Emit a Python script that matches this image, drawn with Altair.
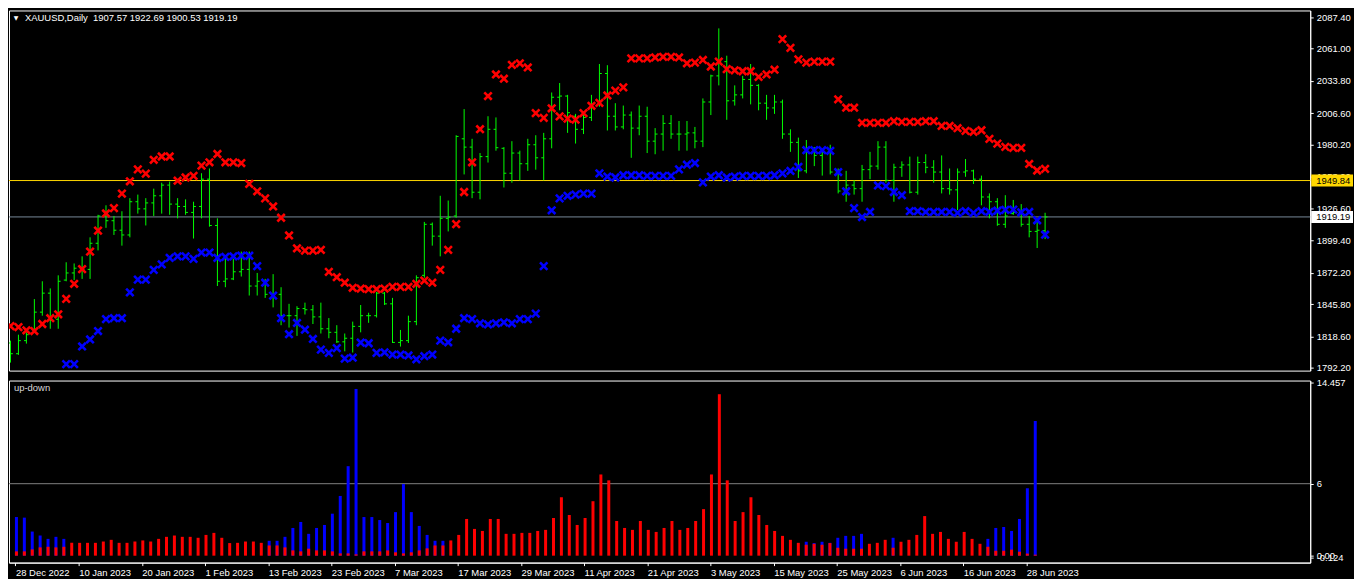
import json
import altair as alt
import pandas as pd

# ---------------- data ----------------
DATE_LABELS = ["28 Dec 2022", "10 Jan 2023", "20 Jan 2023", "1 Feb 2023", "13 Feb 2023",
               "23 Feb 2023", "7 Mar 2023", "17 Mar 2023", "29 Mar 2023", "11 Apr 2023",
               "21 Apr 2023", "3 May 2023", "15 May 2023", "25 May 2023", "6 Jun 2023",
               "16 Jun 2023", "28 Jun 2023"]

OPEN = [1813, 1804, 1815, 1824, 1839, 1855, 1833, 1866, 1872, 1876,
        1875, 1897, 1920, 1916, 1908, 1904, 1932, 1926, 1931, 1937,
        1946, 1930, 1928, 1923, 1928, 1951, 1912, 1865, 1867, 1873,
        1875, 1861, 1865, 1854, 1854, 1836, 1836, 1842, 1841, 1835,
        1825, 1822, 1814, 1817, 1827, 1836, 1836, 1855, 1846, 1813.5,
        1815, 1831, 1870, 1913, 1903, 1918, 1920, 1985, 1978, 1940,
        1970, 1993, 1977, 1956, 1973, 1964, 1980, 1969, 1985, 2020,
        2021, 2004, 1993, 2003, 2014, 2040, 2004, 1995, 2005, 1994,
        2004, 1983, 1989, 1998, 1989, 1989, 1990, 1983, 2016, 2038,
        2050, 2017, 2022, 2035, 2030, 2015, 2011, 2016, 1989, 1982,
        1958, 1977, 1971, 1974, 1957, 1941, 1946, 1943, 1959, 1962,
        1978, 1950, 1961, 1963, 1940, 1965, 1961, 1957, 1943, 1942,
        1957, 1958, 1951, 1936, 1932, 1913, 1922, 1923, 1913, 1907,
        1907.57]
HIGH = [1815, 1820, 1822, 1850, 1865, 1859, 1870, 1881, 1880, 1886,
        1902, 1921, 1929, 1920, 1924, 1935, 1938, 1935, 1943, 1948,
        1949, 1935, 1934, 1932, 1956, 1960, 1918, 1885, 1884, 1890,
        1890, 1872, 1867, 1871, 1860, 1846, 1844, 1847, 1845, 1847,
        1834, 1828, 1821, 1831, 1845, 1838.5, 1856, 1856, 1851, 1824,
        1836, 1870, 1915, 1914.5, 1937, 1933, 1988, 2010, 1985, 1973,
        2004, 2003, 1978, 1983, 1975, 1985, 1988, 1990, 2024, 2032,
        2022, 2006, 2006, 2022, 2048, 2047, 2015, 2013, 2008, 2013,
        2012, 1994, 2005, 2005, 2000, 2000, 1995, 2019, 2039, 2078,
        2055, 2030, 2038, 2048, 2031, 2022, 2022, 2018, 1993, 1986,
        1984, 1978, 1975, 1980, 1960, 1958, 1950, 1963, 1974, 1983,
        1983, 1964, 1966, 1970, 1970, 1972, 1967, 1971, 1960, 1960,
        1968, 1959, 1954, 1939, 1935, 1937.5, 1933.5, 1930, 1920, 1916,
        1922.69]
LOW = [1796.5, 1803, 1812.5, 1822, 1836, 1825, 1825, 1865, 1866, 1867,
       1867, 1891, 1910, 1904, 1895, 1902, 1922, 1912, 1920, 1922,
       1921, 1918, 1921, 1901, 1918, 1911, 1861, 1860, 1866, 1869,
       1853, 1853, 1851, 1843, 1828, 1826, 1819, 1837, 1829, 1821,
       1817, 1813, 1806, 1805, 1822, 1830, 1834.5, 1845, 1813, 1810,
       1813, 1828, 1868, 1895, 1886, 1907, 1918.5, 1955, 1935, 1934,
       1965, 1975, 1944, 1948, 1950, 1958, 1959, 1950, 1977, 2009,
       1990, 1981, 1989, 2000, 2012, 1992, 1992, 1993, 1969, 1988,
       1973, 1972, 1975, 1985, 1975, 1975, 1977, 1978, 2005, 2030,
       2001, 2013, 2019, 2014, 2009, 2001, 2006, 1985, 1974, 1952,
       1956, 1962, 1954, 1955, 1939, 1932, 1938, 1932, 1951, 1959,
       1948, 1932, 1953, 1939, 1938, 1956, 1948, 1939, 1938, 1925,
       1953, 1947, 1929, 1918, 1911.7, 1910, 1921, 1911, 1902, 1893,
       1900.53]
CLOSE = [1804, 1815, 1820, 1839, 1855, 1832, 1865, 1872, 1876, 1875,
         1897, 1920, 1916, 1908, 1904, 1932, 1926, 1931, 1937, 1946,
         1930, 1928, 1923, 1928, 1951, 1912, 1865, 1867, 1873, 1875,
         1861, 1865, 1854, 1854, 1836, 1836, 1842, 1841, 1835, 1825,
         1822, 1814, 1817, 1827, 1836, 1836, 1855, 1846, 1813.5, 1815,
         1831, 1868, 1913, 1903, 1918, 1919, 1987, 1978, 1940, 1970,
         1993, 1977.5, 1956, 1973, 1964, 1980, 1969, 1985, 2020, 2021,
         2007, 1993, 2003, 2014, 2040, 2004, 1995, 2005, 1994, 2004,
         1983, 1989, 1998, 1989, 1989, 1990, 1983, 2016, 2038, 2050,
         2017, 2022, 2035, 2030, 2015, 2011, 2016, 1989, 1982, 1958,
         1977, 1971, 1974, 1957, 1941, 1946, 1943, 1959, 1962, 1978,
         1950, 1961, 1963, 1940, 1965, 1961, 1957, 1943, 1942, 1957,
         1958, 1951, 1936, 1932, 1913, 1920, 1923, 1913, 1907, 1908,
         1919.19]

RED_X = [1827.2, 1826.4, 1823.7, 1823.1, 1829.0, 1833.9, 1837.2, 1850.2, 1862.9, 1875.2,
         1890.0, 1907.7, 1922.1, 1926.6, 1938.8, 1949.2, 1959.2, 1955.7, 1967.3, 1970.1,
         1970.1, 1949.7, 1952.4, 1953.8, 1962.4, 1965.2, 1972.2, 1965.2, 1965.2, 1964.6,
         1947.0, 1940.8, 1934.8, 1928.0, 1918.5, 1903.6, 1892.8, 1890.8, 1890.8, 1891.4,
         1872.9, 1868.4, 1863.8, 1859.5, 1858.9, 1858.3, 1858.3, 1858.9, 1860.3, 1860.3,
         1860.3, 1862.9, 1865.6, 1863.8, 1874.6, 1891.4, 1913.1, 1940.2, 1965.2, 1993.1,
         2021.0, 2039.2, 2035.6, 2047.3, 2048.6, 2045.1, 2006.6, 2002.6, 2010.7, 2003.9,
         2002.0, 2001.2, 2006.6, 2012.8, 2015.3, 2021.5, 2025.6, 2028.3, 2052.7, 2052.7,
         2052.7, 2053.5, 2054.1, 2054.1, 2053.5, 2048.6, 2049.2, 2051.4, 2045.9, 2050.0,
         2043.7, 2042.7, 2041.9, 2041.9, 2037.2, 2039.2, 2043.2, 2069.0, 2061.6, 2051.9,
         2049.2, 2050.0, 2050.0, 2050.0, 2018.3, 2011.2, 2011.2, 1998.5, 1998.5, 1998.5,
         1998.5, 1999.8, 1999.3, 1999.3, 1999.3, 1999.8, 1999.8, 1995.8, 1995.8, 1993.9,
         1991.7, 1990.9, 1992.2, 1984.9, 1980.9, 1978.2, 1977.4, 1977.4, 1963.8, 1958.3,
         1959.7]

BLUE_X = [None, None, None, None, None, None, None, 1795.2, 1795.2, 1810.1,
          1816.0, 1823.1, 1833.1, 1833.9, 1833.9, 1855.6, 1866.4, 1866.4, 1874.6, 1879.2,
          1884.7, 1886.0, 1886.0, 1883.9, 1889.2, 1889.2, 1884.7, 1885.5, 1886.0, 1886.5,
          1886.5, 1877.8, 1863.8, 1852.9, 1833.9, 1820.4, 1829.9, 1824.2, 1816.4, 1807.4,
          1804.7, 1808.7, 1799.8, 1800.6, 1813.4, 1812.8, 1804.7, 1805.2, 1803.3, 1803.3,
          1802.5, 1799.3, 1801.9, 1803.3, 1815.0, 1813.6, 1825.0, 1833.9, 1833.1, 1829.6,
          1828.6, 1829.6, 1830.4, 1829.6, 1833.1, 1833.1, 1837.7, 1877.8, 1924.8, 1934.8,
          1937.0, 1938.0, 1938.8, 1938.8, 1955.9, 1953.2, 1952.4, 1954.3, 1954.3, 1954.3,
          1953.8, 1953.8, 1953.8, 1953.8, 1959.2, 1963.2, 1964.6, 1948.3, 1953.2, 1954.3,
          1952.4, 1953.2, 1953.8, 1953.8, 1953.8, 1953.8, 1954.3, 1955.9, 1957.9, 1961.4,
          1975.4, 1975.4, 1975.4, 1974.9, 1957.0, 1940.8, 1926.6, 1919.1, 1923.4, 1945.7,
          1945.1, 1940.2, 1937.5, 1924.0, 1924.0, 1923.4, 1923.4, 1923.4, 1923.4, 1922.6,
          1924.0, 1922.6, 1924.0, 1923.4, 1924.4, 1925.2, 1925.3, 1923.1, 1923.4, 1916.4,
          1904.2]

UP = [3.22, 3.17, 2.01, 1.68, 1.40, 1.57, 1.40, 0, 0, 0,
      0, 0, 0, 0, 0, 0, 0, 0, 0, 0,
      0, 0, 0, 0, 0, 0, 0, 0, 0, 0,
      0, 0, 1.24, 1.24, 1.57, 2.31, 2.81, 1.82, 2.31, 2.56,
      3.50, 4.98, 7.46, 13.90, 3.22, 3.22, 2.97, 2.72, 3.63, 5.97,
      3.63, 2.48, 1.73, 1.24, 1.24, 0, 0, 0, 0, 0,
      0, 0, 0, 0, 0, 0, 0, 0, 0, 0,
      0, 0, 0, 0, 0, 0, 0, 0, 0, 0,
      0, 0, 0, 0, 0, 0, 0, 0, 0, 0,
      0, 0, 0, 0, 0, 0, 0, 0, 0, 0,
      1.16, 1.05, 1.16, 1.07, 1.49, 1.65, 1.65, 1.82, 0, 0,
      0, 1.49, 0, 0, 0, 0, 0, 0, 0, 0,
      0, 0, 0, 1.40, 2.31, 2.39, 2.06, 3.06, 5.62, 11.23,
      0]
DOWN = [0.36, 0.36, 0.52, 0.69, 0.74, 0.69, 0.74, 1.07, 1.07, 1.07,
        1.07, 1.18, 1.32, 1.07, 1.07, 1.18, 1.27, 1.18, 1.40, 1.57,
        1.68, 1.57, 1.57, 1.49, 1.73, 1.90, 1.49, 1.05, 1.07, 1.18,
        1.18, 1.07, 0.85, 0.85, 0.69, 0.44, 0.36, 0.58, 0.44, 0.44,
        0.36, 0.19, 0.19, 0.11, 0.36, 0.36, 0.36, 0.44, 0.28, 0.19,
        0.28, 0.44, 0.61, 0.85, 0.85, 1.27, 1.73, 3.06, 2.23, 2.06,
        3.06, 3.06, 1.82, 1.82, 1.90, 1.90, 2.06, 2.15, 3.14, 4.87,
        3.39, 2.56, 3.14, 4.54, 6.77, 6.28, 2.89, 2.31, 2.15, 2.89,
        2.15, 1.98, 2.31, 2.89, 2.15, 2.31, 2.89, 3.88, 6.77, 13.46,
        6.28, 2.89, 3.63, 4.87, 3.39, 2.56, 2.06, 1.65, 1.32, 1.07,
        0.91, 0.99, 0.91, 1.05, 0.66, 0.58, 0.58, 0.58, 0.99, 1.07,
        1.32, 0.66, 1.16, 1.32, 1.73, 3.30, 1.82, 1.98, 1.40, 1.16,
        1.98, 1.40, 0.99, 0.74, 0.41, 0.41, 0.50, 0.33, 0.17, 0.08,
        0]

PRICE_TICKS = [2087.40, 2061.00, 2033.80, 2006.60, 1980.20, 1953.00,
               1926.60, 1899.40, 1872.20, 1845.80, 1818.60, 1792.20]
IND_TICKS = [14.457, 6, 0, -0.124]
LEVELS = [1949.84, 1919.19]
LEVEL_LINE_COLORS = ["#FFD700", "#778899"]
LEVEL_BOX_COLORS = ["#FFD700", "#FFFFFF"]
IND_LEVEL = [6]
TITLE = "XAUUSD,Daily\u00a0\u00a01907.57 1922.69 1900.53 1919.19"
SUBTITLE = "up-down"

# ---------------- layout / style ----------------
FONT = "Liberation Sans"
FS = 9.5
W = 1308
HT = 362
HB = 183
PRICE_DOMAIN = [1789.76, 2093.09]
IND_DOMAIN = [-0.578, 14.60]
XPATH = "M-1,-1L1,1M1,-1L-1,1"
BOX_HALF = 6.0 * (PRICE_DOMAIN[1] - PRICE_DOMAIN[0]) / HT  # 6 px in price units

N = len(OPEN)
df = pd.DataFrame({
    "k": list(range(N)), "open": OPEN, "high": HIGH, "low": LOW, "close": CLOSE,
    "red": RED_X, "blue": BLUE_X, "up": UP, "down": DOWN,
})
lv = pd.DataFrame({"level": LEVELS, "line": LEVEL_LINE_COLORS, "box": LEVEL_BOX_COLORS})
ilv = pd.DataFrame({"level": IND_LEVEL})
tdf = pd.DataFrame({"t": [TITLE]})
sdf = pd.DataFrame({"t": [SUBTITLE]})
tri = pd.DataFrame({"t": ["\u25BC"]})

xs = alt.Scale(domain=[-0.1875, 163.3125], nice=False, zero=False)
ys = alt.Scale(domain=PRICE_DOMAIN, nice=False, zero=False)
yb = alt.Scale(domain=IND_DOMAIN, nice=False, zero=False)

yax_top = alt.Axis(orient="right", values=PRICE_TICKS, format=".2f", title=None,
                   labelOverlap=False, tickSize=3, labelPadding=3, grid=False,
                   domainColor="white", tickColor="white", labelColor="white",
                   labelFont=FONT, labelFontSize=FS)
ind_expr = ("datum.value > 10 ? '14.457' : (datum.value > 1 ? '6' : "
            "(datum.value < 0 ? '-0.124' : '0.00'))")
yax_bot = alt.Axis(orient="right", values=IND_TICKS, labelExpr=ind_expr, title=None,
                   labelOverlap=False, tickSize=3, labelPadding=3, grid=False,
                   domainColor="white", tickColor="white", labelColor="white",
                   labelFont=FONT, labelFontSize=FS)
date_expr = json.dumps(DATE_LABELS) + "[round(datum.value / 8)]"
xax_bot = alt.Axis(orient="bottom", values=list(range(0, 8 * len(DATE_LABELS), 8)),
                   labelExpr=date_expr, labelAlign="left", labelBaseline="top",
                   tickSize=3, labelPadding=2, labelOverlap=False, labelFlush=False,
                   grid=False, title=None, domainColor="white", tickColor="white",
                   labelColor="white", labelFont=FONT, labelFontSize=FS)

X_top = alt.X("k:Q", scale=xs, axis=None)
base = alt.Chart(df)

# ---- top panel ----
lines = alt.Chart(lv).mark_rule(strokeWidth=1).encode(
    y=alt.Y("level:Q", scale=ys, axis=yax_top),
    color=alt.Color("line:N", scale=None),
)
hl = base.mark_rule(color="#00FF00", strokeWidth=1, clip=True).encode(
    x=X_top, y=alt.Y("low:Q", scale=ys, axis=yax_top), y2="high:Q")
op = base.transform_calculate(kl="datum.k - 0.3").mark_rule(
    color="#00FF00", strokeWidth=1, clip=True).encode(
    x=alt.X("kl:Q", scale=xs, axis=None), x2="k:Q",
    y=alt.Y("open:Q", scale=ys, axis=yax_top))
cl = base.transform_calculate(kr="datum.k + 0.3").mark_rule(
    color="#00FF00", strokeWidth=1, clip=True).encode(
    x=alt.X("kr:Q", scale=xs, axis=None), x2="k:Q",
    y=alt.Y("close:Q", scale=ys, axis=yax_top))
redx = base.mark_point(shape=XPATH, filled=False, color="#FF0000", size=56,
                       strokeWidth=2.6, opacity=1, clip=True).encode(
    x=X_top, y=alt.Y("red:Q", scale=ys, axis=yax_top))
bluex = base.transform_filter("isValid(datum.blue)").mark_point(
    shape=XPATH, filled=False, color="#0000FF", size=56, strokeWidth=2.6,
    opacity=1, clip=True).encode(x=X_top, y=alt.Y("blue:Q", scale=ys, axis=yax_top))
boxes = alt.Chart(lv).transform_calculate(
    lo=f"datum.level - {BOX_HALF}", hi=f"datum.level + {BOX_HALF}"
).mark_rect().encode(
    y=alt.Y("lo:Q", scale=ys, axis=yax_top), y2="hi:Q",
    x=alt.value(W + 1), x2=alt.value(W + 43),
    color=alt.Color("box:N", scale=None),
)
boxtxt = alt.Chart(lv).mark_text(align="left", baseline="middle", color="black",
                                 font=FONT, fontSize=FS, dy=0.5).encode(
    y=alt.Y("level:Q", scale=ys, axis=yax_top), x=alt.value(W + 6),
    text=alt.Text("level:Q", format=".2f"))
title = alt.Chart(tdf).mark_text(align="left", baseline="middle", color="white",
                                 font=FONT, fontSize=FS).encode(
    x=alt.value(16), y=alt.value(8), text="t:N")
triangle = alt.Chart(tri).mark_text(align="center", baseline="middle", color="white",
                                    font="DejaVu Sans", fontSize=6).encode(
    x=alt.value(7), y=alt.value(8), text="t:N")

top = alt.layer(lines, hl, op, cl, redx, bluex, boxes, boxtxt, title, triangle).properties(
    width=W, height=HT)

# ---- bottom panel ----
X_bot = alt.X("k:Q", scale=xs, axis=xax_bot)
ubar = base.mark_bar(size=3, xOffset=1, color="#0000FF").encode(
    x=X_bot, y=alt.Y("up:Q", scale=yb, axis=yax_bot), y2=alt.datum(0))
dbar = base.mark_bar(size=3, xOffset=1, color="#FF0000").encode(
    x=X_bot, y=alt.Y("down:Q", scale=yb, axis=yax_bot), y2=alt.datum(0))
lvl6 = alt.Chart(ilv).mark_rule(color="#808080", strokeWidth=1).encode(
    y=alt.Y("level:Q", scale=yb, axis=yax_bot))
sub = alt.Chart(sdf).mark_text(align="left", baseline="middle", color="#D8D8D8",
                               font=FONT, fontSize=FS).encode(
    x=alt.value(5), y=alt.value(8), text="t:N")

bottom = alt.layer(lvl6, ubar, dbar, sub).properties(width=W, height=HB)

chart = alt.vconcat(top, bottom, spacing=3).properties(
    background="black", padding=0
).configure_view(stroke="white", strokeWidth=1).configure_axis(grid=False)

chart.save("out.html", embed_options={"renderer": "svg", "actions": False})
